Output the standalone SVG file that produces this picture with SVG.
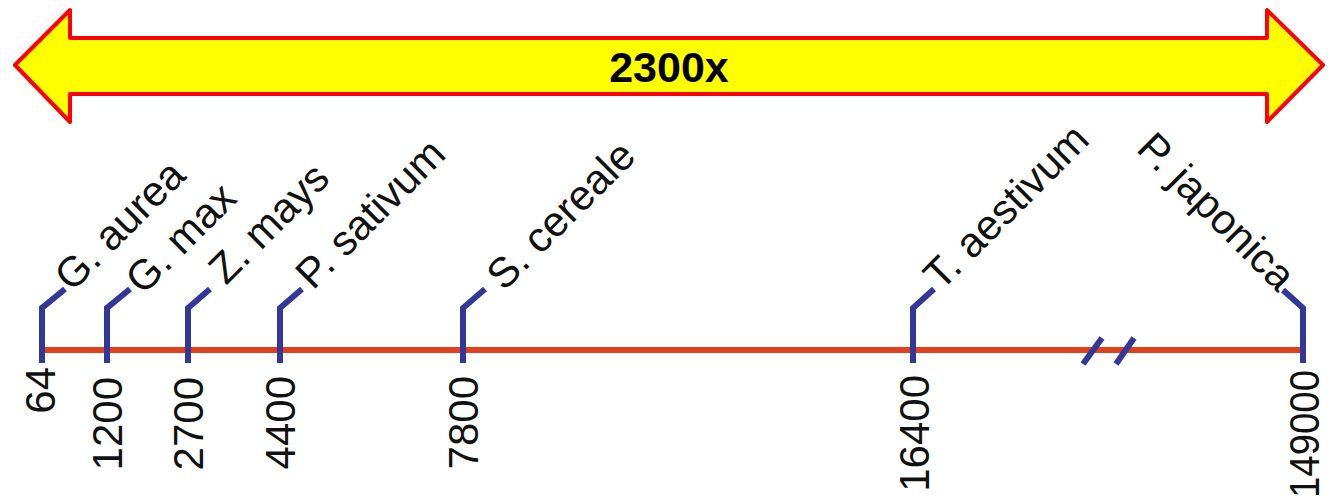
<svg xmlns="http://www.w3.org/2000/svg" width="1336" height="503" viewBox="0 0 1336 503">
<style>
.lbl{font-family:"Liberation Sans",Arial,Helvetica,sans-serif;font-size:42px;fill:#111}
.num{font-family:"Liberation Sans",Arial,Helvetica,sans-serif;font-size:42px;fill:#111;text-anchor:end}
.tick{fill:none;stroke:#33379a;stroke-width:6;stroke-linejoin:miter}
.brk{stroke:#33379a;stroke-width:6}
.axis{stroke:#e0401c;stroke-width:6}
.title{font-family:"Liberation Sans",Arial,sans-serif;font-size:43px;font-weight:bold;fill:#000;text-anchor:middle}
</style>
<rect width="1336" height="503" fill="#ffffff"/>
<g id="scale-arrow">
<polygon points="15,65 70,10 70,38 1267,38 1267,10 1323,65 1267,122 1267,94 70,94 70,122" fill="#ffff00" stroke="#ff0000" stroke-width="4" stroke-linejoin="round"/>
<text class="title" x="669" y="82">2300x</text>
</g>
<g id="connectors">
<line class="axis" x1="42" y1="350" x2="1303" y2="350"/>
<line class="brk" x1="1083" y1="364" x2="1102" y2="338"/>
<line class="brk" x1="1116" y1="364" x2="1134" y2="338"/>
</g>
<g id="g-aurea">
<polyline class="tick" points="42,363 42,308 65,289"/>
<text class="lbl" transform="translate(72,293) rotate(-45)">G. aurea</text>
<text class="num" transform="translate(55,367) rotate(-90)">64</text>
</g>
<g id="g-max">
<polyline class="tick" points="107,363 107,308 130,289"/>
<text class="lbl" transform="translate(143,296) rotate(-45)">G. max</text>
<text class="num" transform="translate(122,377) rotate(-90)">1200</text>
</g>
<g id="z-mays">
<polyline class="tick" points="188,363 188,308 210,289"/>
<text class="lbl" transform="translate(226,286) rotate(-45)">Z. mays</text>
<text class="num" transform="translate(203,377) rotate(-90)">2700</text>
</g>
<g id="p-sativum">
<polyline class="tick" points="280,363 280,308 302,289"/>
<text class="lbl" transform="translate(313,291) rotate(-45)">P. sativum</text>
<text class="num" transform="translate(295,376) rotate(-90)">4400</text>
</g>
<g id="s-cereale">
<polyline class="tick" points="463,363 463,308 485,289"/>
<text class="lbl" transform="translate(504,292) rotate(-45)">S. cereale</text>
<text class="num" transform="translate(478,376) rotate(-90)">7800</text>
</g>
<g id="t-aestivum">
<polyline class="tick" points="913,363 913,308 934,289"/>
<text class="lbl" transform="translate(941,292) rotate(-45)">T. aestivum</text>
<text class="num" transform="translate(929,375) rotate(-90)">16400</text>
</g>
<g id="p-japonica">
<polyline class="tick" points="1303,363 1303,308 1283,290"/>
<text class="lbl" text-anchor="end" transform="translate(1278,293) rotate(45)">P. japonica</text>
<text class="num" transform="translate(1319,370) rotate(-90)" textLength="128" lengthAdjust="spacingAndGlyphs">149000</text>
</g>
</svg>
